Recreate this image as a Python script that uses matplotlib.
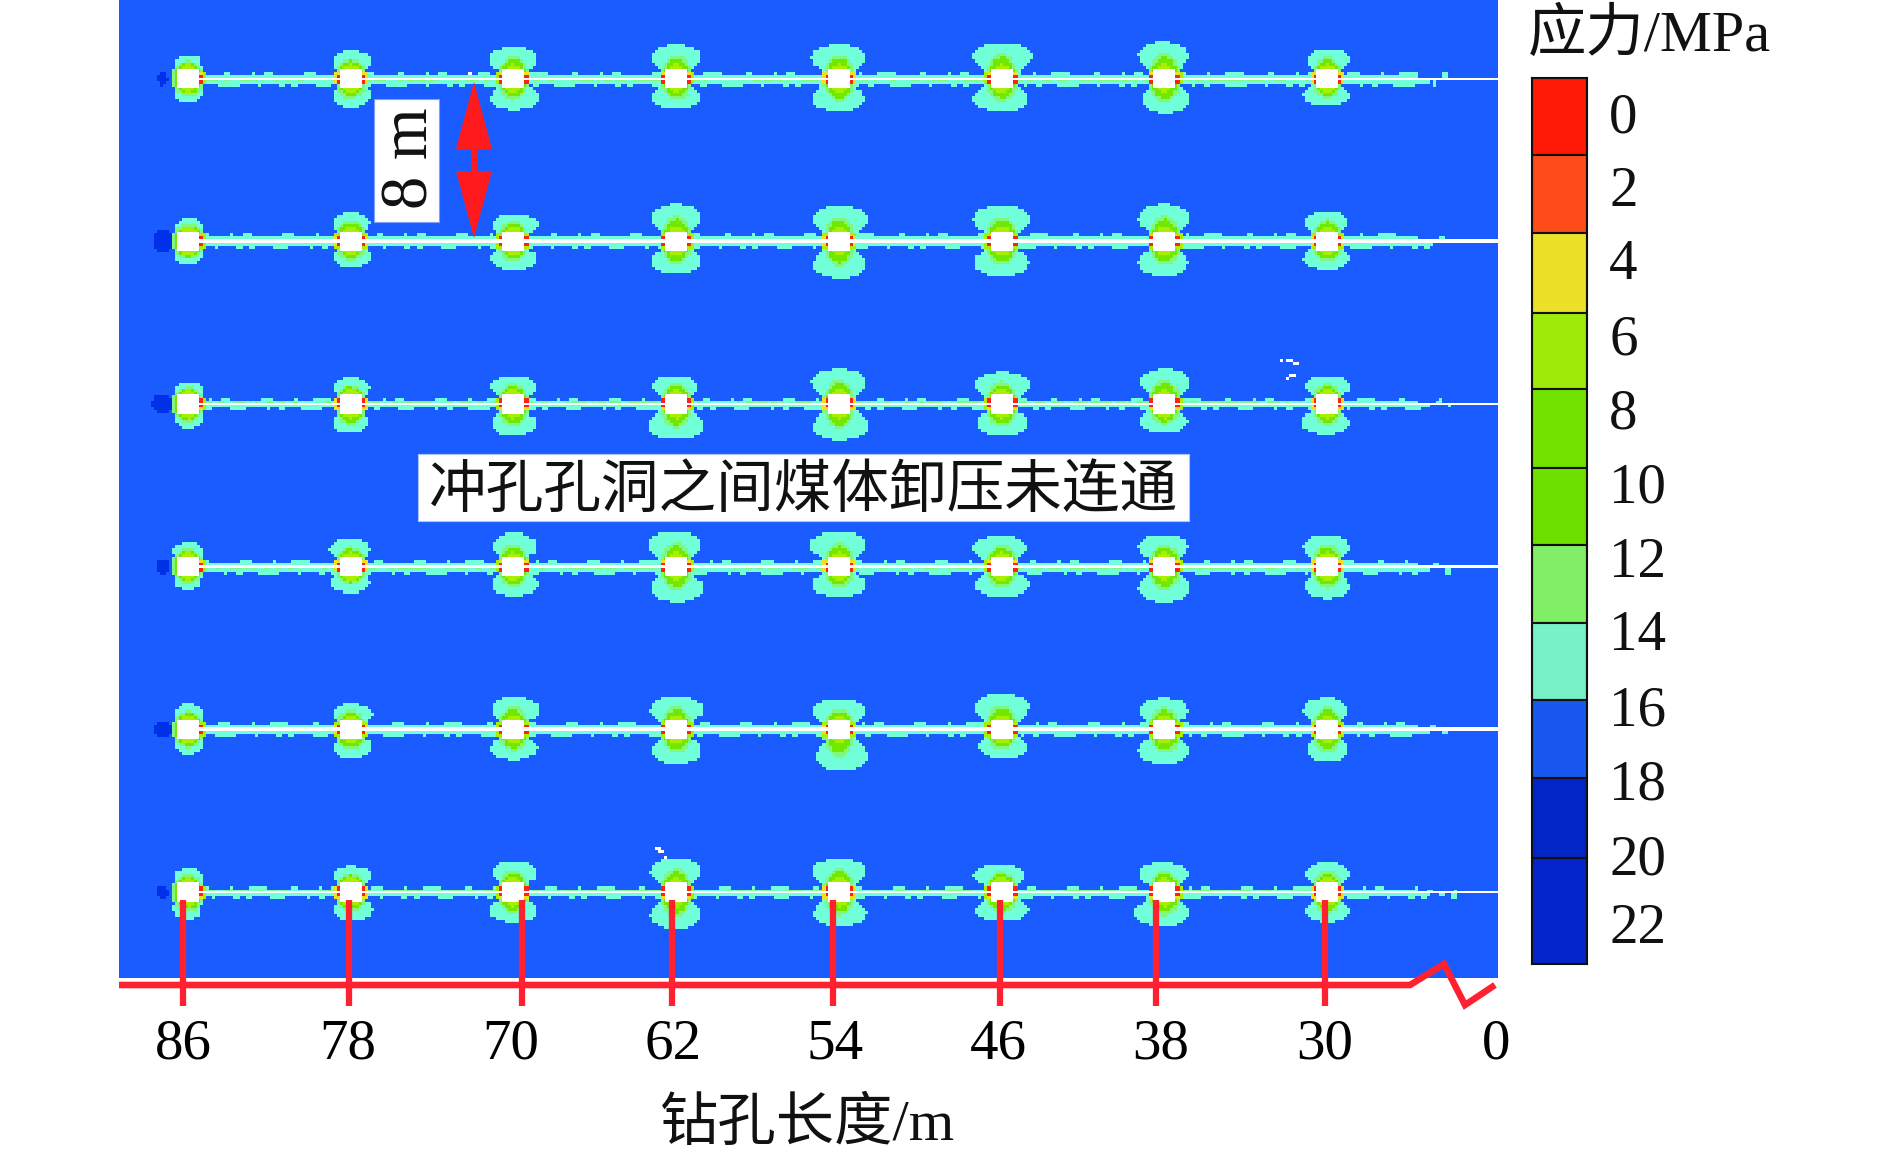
import numpy as np
import matplotlib
matplotlib.use("Agg")
import matplotlib.pyplot as plt
from matplotlib.colors import ListedColormap, BoundaryNorm
from matplotlib.patches import Rectangle, FancyArrow

plt.rcParams['font.family'] = ['Liberation Serif', 'Noto Sans CJK SC']

# ---------------- data ----------------
hole_lengths = [86, 78, 70, 62, 54, 46, 38, 30]      # m along the borehole
row_positions = [0, 8, 16, 24, 32, 40]               # m, row spacing 8 m
x_tick_labels = ['86', '78', '70', '62', '54', '46', '38', '30']
legend_labels = ['0', '2', '4', '6', '8', '10', '12', '14', '16', '18', '20', '22']
legend_colors = ['#ff1a08', '#ff4c18', '#ece028', '#a0ea0a', '#72e200', '#6ee000',
                 '#80ee66', '#78f0c8', '#1858f0', '#0026c8', '#0424cc']

# extent of the 14-16 MPa lobes around every hole (row x hole), reference units
lobe_up = [[70, 82, 93, 100, 100, 105, 108, 88],
           [68, 85, 80, 110, 105, 105, 110, 90],
           [65, 78, 83, 85, 105, 95, 105, 85],
           [73, 85, 100, 105, 105, 92, 97, 97],
           [75, 75, 97, 97, 88, 105, 92, 93],
           [70, 77, 93, 100, 100, 82, 88, 88]]
lobe_down = [[75, 87, 95, 93, 100, 100, 105, 83],
             [70, 78, 87, 100, 112, 105, 105, 85],
             [73, 88, 95, 105, 108, 95, 85, 90],
             [70, 78, 87, 105, 90, 90, 105, 95],
             [75, 87, 92, 105, 128, 87, 105, 100],
             [82, 85, 90, 110, 102, 87, 102, 90]]
width_up_left = [[28, 40, 55, 57, 62, 66, 60, 46],
                 [27, 38, 48, 57, 58, 65, 60, 50],
                 [30, 38, 52, 55, 62, 60, 55, 50],
                 [33, 48, 48, 65, 65, 68, 60, 55],
                 [30, 38, 48, 60, 60, 62, 57, 55],
                 [32, 40, 48, 60, 60, 65, 60, 50]]
width_up_right = [[30, 45, 53, 57, 58, 68, 52, 50],
                  [32, 42, 57, 57, 67, 65, 55, 45],
                  [35, 42, 52, 48, 62, 65, 55, 52],
                  [36, 43, 52, 57, 62, 55, 52, 50],
                  [35, 50, 57, 62, 62, 62, 52, 45],
                  [35, 47, 52, 55, 62, 52, 52, 50]]
width_down_left = [[28, 40, 52, 57, 60, 65, 52, 56],
                   [30, 37, 52, 57, 57, 63, 60, 56],
                   [28, 40, 50, 65, 58, 57, 57, 60],
                   [30, 45, 48, 57, 62, 60, 60, 52],
                   [30, 38, 52, 57, 50, 52, 60, 48],
                   [33, 40, 55, 60, 57, 60, 70, 50]]
width_down_right = [[32, 45, 57, 57, 58, 60, 55, 50],
                    [32, 45, 53, 57, 60, 60, 52, 50],
                    [32, 38, 50, 62, 68, 60, 52, 50],
                    [30, 43, 57, 62, 62, 62, 55, 50],
                    [35, 48, 53, 57, 65, 60, 55, 47],
                    [30, 50, 52, 57, 62, 60, 55, 50]]
# per row: white line half thicknesses (px), dark-blue blob at the hole end (px)
white_above = [0.3, 1.7, 1.2, 1.2, 2.0, 0.8]
white_below = [1.7, 2.3, 1.5, 1.2, 2.0, 1.2]
blob_width = [8, 18, 20, 11, 16, 9]
blob_height = [13, 20, 18, 14, 16, 12]
band_end_px = [1452, 1452, 1452, 1458, 1450, 1466]
# isolated unloaded specks (length m, row offset m)
speck_length = [31.9, 31.75, 31.6, 31.45, 31.9, 31.75, 31.6, 32.3, 62.95, 62.8, 62.8, 62.65, 62.5, 72.2]
speck_depth = [13.9, 13.9, 14.05, 14.05, 14.7, 14.55, 14.55, 13.9, 37.8, 37.8, 37.95, 37.95, 38.25, -0.3]
# bump patterns of the rough band along each borehole (raster cells)
jag_up = [0, 0, 0, 0, 1, 1, 1, 1, 0, 0, 0, 0, 0, 0, 0, 1, 0, 0, 0, 0, 0, 1, 1, 1, 1, 1, 1, 0, 0, 0,
          0, 0, 0, 0, 0, 1, 1, 0, 0, 0, 0, 0, 0, 0, 1, 0, 0, 0, 1, 1, 1, 0, 0, 0, 0, 0, 0]
jag_dn = [0, 0, 1, 1, 0, 0, 0, 0, 0, 0, 1, 1, 1, 1, 1, 0, 0, 0, 0, 0, 0, 0, 1, 0, 0, 0, 1, 1, 0, 0,
          0, 0, 0, 1, 1, 1, 1, 1, 1, 1, 0, 0, 0, 0, 0, 0, 1, 0, 0, 0, 0, 0, 0, 1, 1]
# ---------------- layout ----------------
W, H, DPI = 1890, 1157, 100
PX_M = 20.34                     # pixels per metre
X0_PX, Y0_PX = 188.0, 78.3       # pixel position of hole 86 m, row 0
AX_L, AX_R, AX_B = 119, 1498, 978
LEG_L, LEG_R, LEG_T, LEG_B = 1532, 1587, 78, 964
legend_edges = [0, 77, 155, 235, 311, 390, 467, 545, 622, 700, 780, 886]
legend_ticks = [34, 108, 181, 256, 330, 404, 479, 552, 627, 701, 776, 845]
label_shift_px = [-5, -3, -3, -3, -4, -3, -4, -2]
red_shift_px = [-5, -2, 9, -4, -5.5, -1.5, -8, -2.5]


def mx(px):
    return 86 - (px - X0_PX) / PX_M


def my(px):
    return (px - Y0_PX) / PX_M


fig = plt.figure(figsize=(W / DPI, H / DPI), dpi=DPI, facecolor='white')
ax = fig.add_axes([AX_L / W, 1 - AX_B / H, (AX_R - AX_L) / W, AX_B / H])
xlim = (mx(AX_L), mx(AX_R))
ylim = (my(AX_B), my(0))

# ---------------- stress raster ----------------
LV_DARK, LV_BG, LV_CYAN, LV_LG, LV_G, LV_YG, LV_Y, LV_OR, LV_RED = 21, 17, 15, 13, 9, 7, 5, 3, 1
field_colors = ['#ff2018', '#ff5a10', '#f0e020', '#a8f000', '#70e800', '#80f880', '#70ffd8', '#1a5cff', '#0030e8']
field_bounds = [0, 2, 4, 6, 8, 11, 14, 16, 19, 23]
cmap = ListedColormap(field_colors)
cmap.set_bad('white')
norm = BoundaryNorm(field_bounds, cmap.N)

CELL = 0.15
xs = np.arange(xlim[0], xlim[1], -CELL)
ys = np.arange(ylim[1], ylim[0], CELL)
XX, YY = np.meshgrid(xs, ys)
field = np.full(XX.shape, float(LV_BG))

prof_t = [0.0, 0.25, 0.45, 0.6, 0.75, 0.88, 0.96, 1.0]
prof_w = [0.55, 0.62, 0.92, 1.0, 0.95, 0.76, 0.5, 0.22]


def ellipse(dx, dy, a, b):
    return (dx / a) ** 2 + (dy / b) ** 2 <= 1


for r, ry in enumerate(row_positions):
    # rough band along the borehole
    end_len = mx(band_end_px[r])
    shift = r * 7
    for j, x in enumerate(xs):
        if x > 86 or x < end_len:
            continue
        up = 4.0 + 3.0 * jag_up[(j + shift) % len(jag_up)]
        dn = 4.8 + 3.0 * jag_dn[(j + 2 * shift) % len(jag_dn)]
        if x < 25.5 and jag_up[(j + r) % len(jag_up)] == 0:   # patchy towards the collar
            up = 0
        if x < 25 and jag_dn[(j + r) % len(jag_dn)] == 0:
            dn = 0
        dy_px = (ys - ry) * PX_M
        field[(dy_px >= -up) & (dy_px <= dn), j] = LV_CYAN
        # green core of the band on the rows where the white line is thin
        if white_above[r] + white_below[r] < 2.8 and x > 30 and jag_up[(j + r) % len(jag_up)] + jag_dn[(j + r) % len(jag_dn)] != 1:
            field[np.abs(dy_px) <= 1.6, j] = LV_LG

    # dark blue blob beyond the hole end
    bx = (86 + 25 / PX_M - XX) * PX_M
    by = (YY - ry) * PX_M
    field[ellipse(bx, by, blob_width[r] / 2 + 1, blob_height[r] / 2 + 1)] = LV_DARK

    for c, cx in enumerate(hole_lengths):
        dx = (cx - XX) * PX_M      # + to the right of the picture
        dy = (YY - ry) * PX_M      # + downwards
        near = (np.abs(dx) < 60) & (np.abs(dy) < 60)
        h_up, h_dn = lobe_up[r][c] / 3, lobe_down[r][c] / 3
        wl_up, wr_up = width_up_left[r][c] / 2.24, width_up_right[r][c] / 2.24
        wl_dn, wr_dn = width_down_left[r][c] / 2.24, width_down_right[r][c] / 2.24
        # cyan lobes
        for sgn, hh, wl, wr in ((-1, h_up, wl_up, wr_up), (1, h_dn, wl_dn, wr_dn)):
            t = np.clip(sgn * dy / hh, 0, None)
            lim = np.interp(t, prof_t, prof_w)
            lobe = near & (sgn * dy >= 0) & (t <= 1)
            left = np.maximum(lim * wl, np.where(t < 0.5, 14.0, 0.0))
            right = np.maximum(lim * wr, np.where(t < 0.5, 14.0, 0.0))
            field[lobe & (dx >= -left) & (dx <= right)] = LV_CYAN
            # nested contours
            field[near & (sgn * dy >= 0) & ellipse(dx, dy, 16, 0.55 * hh + 5)] = LV_LG
            field[near & (sgn * dy >= 0) & ellipse(dx, dy, 13, 0.45 * hh + 5)] = LV_G
            field[near & (sgn * dy >= 0) & ellipse(dx, dy, 10, 14.5)] = LV_YG
        # stress ring on the hole sides
        side = 1 if c == 0 else 0
        mask = near & (dx > 0 if side else np.ones_like(dx, bool))
        field[mask & (np.abs(dx) <= 17) & (np.abs(dy) <= 7)] = LV_YG
        field[mask & (np.abs(dx) <= 16) & (np.abs(dy) <= 5.5)] = LV_Y
        field[mask & (np.abs(dx) <= 15) & (np.abs(dy) <= 4.5)] = LV_RED

for sl, sd in zip(speck_length, speck_depth):
    j = np.argmin(np.abs(xs - sl))
    i = np.argmin(np.abs(ys - sd))
    field[i, j] = np.nan

ax.imshow(field, cmap=cmap, norm=norm, interpolation='nearest', aspect='auto',
          extent=(xs[0] + CELL / 2, xs[-1] - CELL / 2, ys[-1] + CELL / 2, ys[0] - CELL / 2), zorder=1)
ax.set_facecolor('#1a5cff')
ax.set_xlim(*xlim)
ax.set_ylim(*ylim)

# white boreholes and holes
for r, ry in enumerate(row_positions):
    ax.fill_between([86, xlim[1]], ry - white_above[r] / PX_M, ry + white_below[r] / PX_M,
                    color='white', lw=0, zorder=2)
    for cx in hole_lengths:
        ax.add_patch(Rectangle((cx - 11 / PX_M, ry - 9.5 / PX_M), 22 / PX_M, 19.5 / PX_M,
                               fc='white', ec='none', zorder=3))

# red length axis with break
RED = '#ff2030'
lw_red = 6.6 * 72 / DPI
ax.plot([xlim[0], mx(1410), mx(1444), mx(1465), mx(1495)],
        [my(985), my(985), my(964), my(1005), my(985)],
        color=RED, lw=lw_red, clip_on=False, zorder=5, solid_joinstyle='miter', solid_capstyle='butt')
for length, sh in zip(hole_lengths, red_shift_px):
    xp = length - sh / PX_M
    ax.plot([xp, xp], [my(900), my(1006)], color=RED, lw=lw_red * 0.95,
            clip_on=False, zorder=5, solid_capstyle='butt')

tick_x = [l - s / PX_M for l, s in zip(hole_lengths, label_shift_px)] + [mx(1496)]
ax.set_xticks(tick_x)
ax.set_xticklabels(x_tick_labels + ['0'], fontsize=41)
ax.tick_params(axis='x', length=0, pad=29)
ax.set_yticks([])
for s in ax.spines.values():
    s.set_visible(False)

# annotations
ax.add_patch(FancyArrow(mx(474), my(160), 0, my(82) - my(160), width=6 / PX_M, head_width=36 / PX_M,
                        head_length=67 / PX_M, length_includes_head=True, fc='#ff1a1e', ec='none', zorder=6))
ax.add_patch(FancyArrow(mx(474), my(160), 0, my(238) - my(160), width=6 / PX_M, head_width=36 / PX_M,
                        head_length=67 / PX_M, length_includes_head=True, fc='#ff1a1e', ec='none', zorder=6))
ax.add_patch(Rectangle((mx(439), my(99)), (439 - 374) / PX_M, (222 - 99) / PX_M, fc='white',
                       ec='#7f9fff', lw=0.8, zorder=6))
ax.text(mx(411), my(158), '8 m', rotation=90, ha='center', va='center', fontsize=48, color='#111111', zorder=7)
ax.add_patch(Rectangle((mx(1189), my(454)), (1189 - 418) / PX_M, (521 - 454) / PX_M, fc='white',
                       ec='#b0c4ff', lw=0.8, zorder=6))
ax.text(mx(803), my(492), '冲孔孔洞之间煤体卸压未连通', ha='center', va='center', fontsize=41.5,
        color='#111111', zorder=7)

fig.text(807 / W, 1 - 1125 / H, '钻孔长度/m', ha='center', va='center', fontsize=42, color='#111111')
fig.text(1528 / W, 1 - 36 / H, '应力/MPa', ha='left', va='center', fontsize=42, color='#111111')

# legend bar
lax = fig.add_axes([LEG_L / W, 1 - LEG_B / H, (LEG_R - LEG_L) / W, (LEG_B - LEG_T) / H])
for i, col in enumerate(legend_colors):
    lax.barh(legend_edges[i], 1, height=legend_edges[i + 1] - legend_edges[i], align='edge', color=col,
             edgecolor='#101010', linewidth=1.5)
lax.set_xlim(0, 1)
lax.set_ylim(legend_edges[-1], 0)
lax.set_xticks([])
lax.set_yticks(legend_ticks)
lax.set_yticklabels(legend_labels, fontsize=41, ha='left', color='#111111')
lax.yaxis.tick_right()
lax.tick_params(axis='y', length=0, pad=16)
for s in lax.spines.values():
    s.set_color('#101010')
    s.set_linewidth(1.5)

fig.savefig('out.png', dpi=DPI, facecolor='white')
